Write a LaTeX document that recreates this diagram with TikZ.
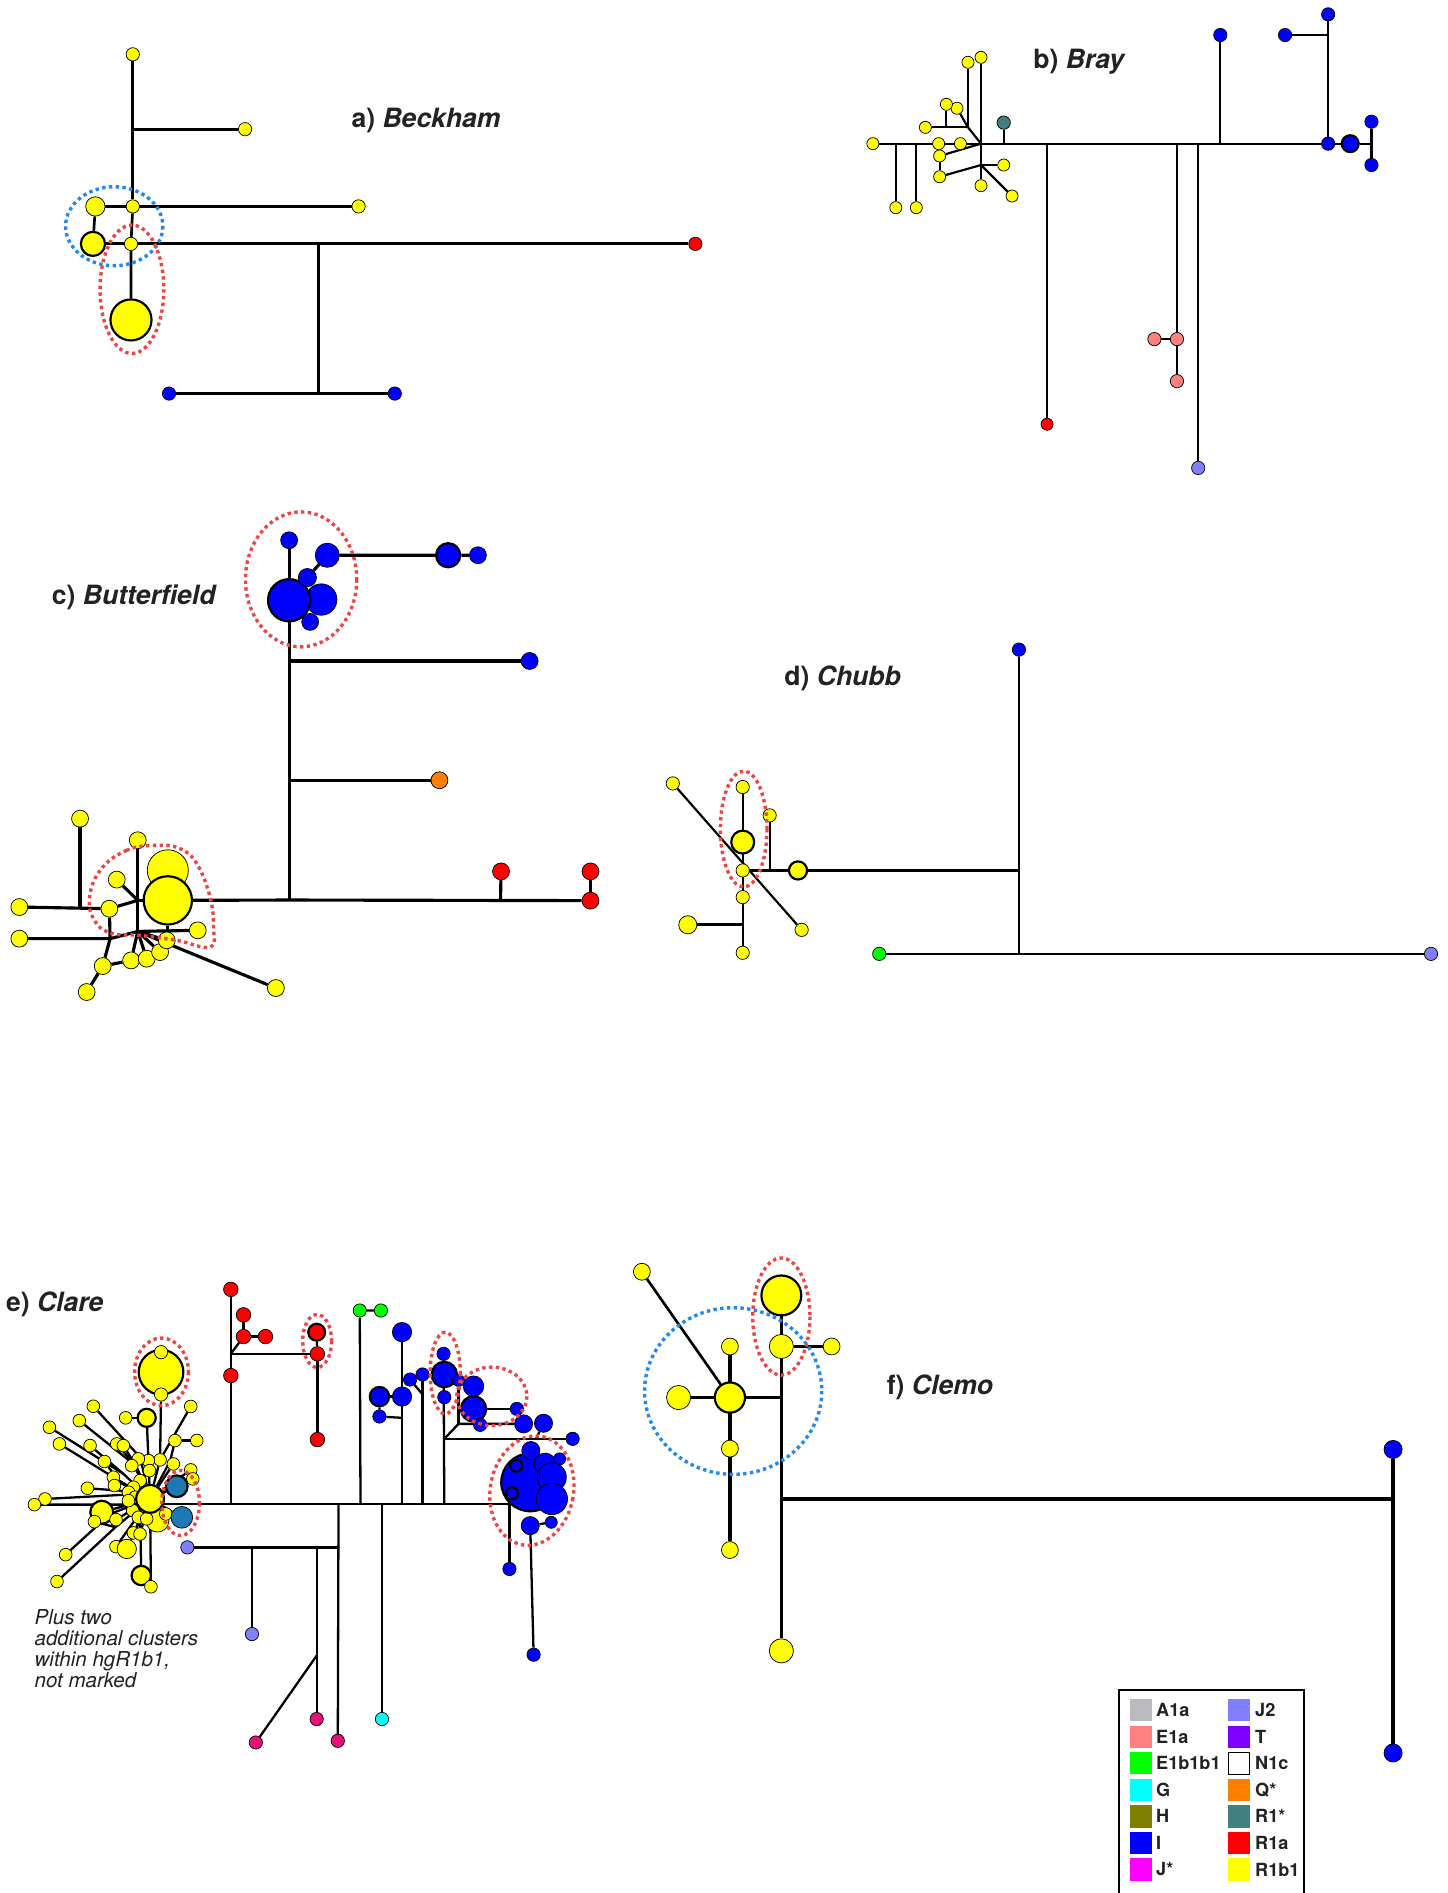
\documentclass[tikz,border=0pt]{standalone}
\usepackage{fontspec}
\setmainfont{TeX Gyre Heros}
\pgfdeclarelayer{bg}
\pgfsetlayers{bg,main}
\definecolor{yel}{HTML}{FFFF00}
\definecolor{blu}{HTML}{0000FF}
\definecolor{rd}{HTML}{FF0000}
\definecolor{sal}{HTML}{FF8080}
\definecolor{grn}{HTML}{00FF00}
\definecolor{cyn}{HTML}{00FFFF}
\definecolor{olv}{HTML}{808000}
\definecolor{mag}{HTML}{FF00FF}
\definecolor{lav}{HTML}{8080FF}
\definecolor{vio}{HTML}{8000FF}
\definecolor{org}{HTML}{FF8000}
\definecolor{tea}{HTML}{408080}
\definecolor{gry}{HTML}{BBBBBF}
\definecolor{pnk}{HTML}{E8107A}
\definecolor{stb}{HTML}{1E78B4}
\definecolor{dotred}{HTML}{EE4444}
\definecolor{dotblue}{HTML}{2288EE}
\definecolor{txt}{HTML}{222222}
\begin{document}
\begin{tikzpicture}[x=1pt,y=-1pt,
  nd/.style={circle,draw=black,line width=0.6pt,inner sep=0pt,minimum size=11},
  sz/.style={minimum size=#1},
  tk/.style={line width=1.8pt},
  yn/.style={nd,fill=yel}, bn/.style={nd,fill=blu}, rn/.style={nd,fill=rd},
  sn/.style={nd,fill=sal}, gn/.style={nd,fill=grn}, cn/.style={nd,fill=cyn},
  ln/.style={nd,fill=lav}, orn/.style={nd,fill=org}, tn/.style={nd,fill=tea},
  pn/.style={nd,fill=pnk}, sbn/.style={nd,fill=stb},
  ttl/.style={anchor=west,inner sep=0pt,text=txt,font=\fontsize{22}{26}\selectfont\bfseries},
  ovr/.style={draw=dotred,line width=2.8pt,dash pattern=on 2.8pt off 2.8pt},
  ovb/.style={draw=dotblue,line width=2.8pt,dash pattern=on 2.8pt off 2.8pt},
  sw/.style={inner sep=0pt,minimum width=18,minimum height=18.5},
  lgt/.style={anchor=west,inner sep=0pt,text=txt,font=\fontsize{15}{18}\selectfont\bfseries}
]
\useasboundingbox (0,0) rectangle (1199,1568);
\begin{pgfonlayer}{bg}
\fill[white] (0,0) rectangle (1199,1568);
\end{pgfonlayer}

% ================= a) Beckham
\node[yn] (a1) at (110,45) {};
\node[yn] (a2) at (203,107) {};
\coordinate (a2j) at (110,107);
\node[yn,sz=16] (a3) at (79,171) {};
\node[yn] (a4) at (110,171) {};
\node[yn] (a5) at (297,171) {};
\node[yn,tk,sz=20] (a6) at (77,202) {};
\node[yn] (a7) at (108.5,202) {};
\node[rn] (a8) at (576,202) {};
\coordinate (a9) at (264,202);
\coordinate (a10) at (264,326);
\node[bn] (a11) at (140,326) {};
\node[bn] (a12) at (327,326) {};
\node[yn,tk,sz=34] (a13) at (108.5,265) {};
\begin{pgfonlayer}{bg}
\begin{scope}[line width=2.2pt]
\draw (a1) -- (a4);
\draw (a2j) -- (a2);
\draw (a3) -- (a5);
\draw (a3) -- (a6);
\draw (a4) -- (a7) -- (a13);
\draw[line width=2.7pt] (a6) -- (a8);
\draw (a9) -- (a10);
\draw[line width=2.5pt] (a11) -- (a12);
\end{scope}
\end{pgfonlayer}
\draw[ovb] (94.6,187.4) ellipse [x radius=40.3, y radius=32.7];
\draw[ovr] (109.3,239.6) ellipse [x radius=26.4, y radius=53.2];
\node[ttl] (la) at (291,100) {a) \textit{Beckham}};

% ================= b) Bray
\node[yn,sz=10] (b1) at (723,119) {};
\coordinate (b2j) at (742,119);
\coordinate (b3j) at (759,119);
\node[yn,sz=10] (b2) at (742,172) {};
\node[yn,sz=10] (b3) at (759,172) {};
\node[yn,sz=10] (b4) at (777.5,119) {};
\node[yn,sz=10] (b5) at (795.5,119) {};
\coordinate (bh) at (812.6,119);
\node[yn,sz=10] (b6) at (778.3,129.2) {};
\node[yn,sz=10] (b7) at (778.3,146.4) {};
\coordinate (b7j) at (812.6,136.7);
\node[yn,sz=10] (b8) at (812.6,47.5) {};
\node[yn,sz=10] (b9) at (812.6,153.8) {};
\node[yn,sz=10] (b10) at (801.8,51.6) {};
\coordinate (b10j) at (801.8,105.5);
\node[yn,sz=10] (b11) at (792.7,89.7) {};
\node[yn,sz=10] (b12) at (783.9,86.4) {};
\coordinate (b12j) at (783.9,105.5);
\node[yn,sz=10] (b13) at (766.5,105.5) {};
\node[yn,sz=10] (b14) at (831.4,136.7) {};
\node[yn,sz=10] (b15) at (838.3,162.4) {};
\node[tn,sz=11] (b16) at (831.4,101.6) {};
\coordinate (b16j) at (831.4,119);
\coordinate (b17j) at (867.3,119);
\node[rn,sz=10] (b17) at (867.3,351.4) {};
\coordinate (b18j) at (974.9,119);
\node[sn,sz=11] (b18) at (974.9,315.7) {};
\node[sn,sz=11] (b19) at (974.9,280.9) {};
\node[sn,sz=11] (b20) at (956.2,280.9) {};
\coordinate (b21j) at (992.5,119);
\node[ln,sz=11] (b21) at (992.5,387.6) {};
\coordinate (b22j) at (1010.8,119);
\node[bn,sz=11] (b22) at (1010.8,29) {};
\node[bn,sz=11] (b23) at (1100.1,119) {};
\node[bn,sz=11] (b24) at (1100.1,11.9) {};
\coordinate (b24j) at (1100.1,29);
\node[bn,sz=11] (b25) at (1064.4,29) {};
\node[bn,tk,sz=14] (b26) at (1118.4,119) {};
\coordinate (b27j) at (1136,119);
\node[bn,sz=11] (b28) at (1136,100.8) {};
\node[bn,sz=11] (b29) at (1136,136.7) {};
\begin{pgfonlayer}{bg}
\begin{scope}[line width=1.8pt]
\draw (b1) -- (b23) -- (b26) -- (b27j);
\draw (b28) -- (b29);
\draw (b2j) -- (b2);
\draw (b3j) -- (b3);
\draw (b6) -- (bh);
\draw (b6) -- (b7);
\draw (b7) -- (b7j);
\draw (b8) -- (b9);
\draw (b10) -- (b10j);
\draw (bh) -- (b10j) -- (b11);
\draw (b13) -- (b10j);
\draw (b12) -- (b12j);
\draw (b7j) -- (b14);
\draw (b7j) -- (b15);
\draw (b16) -- (b16j);
\draw (b17j) -- (b17);
\draw (b18j) -- (b18);
\draw (b19) -- (b20);
\draw (b21j) -- (b21);
\draw (b22j) -- (b22);
\draw (b23) -- (b24);
\draw (b25) -- (b24j);
\end{scope}
\end{pgfonlayer}
\node[ttl] (lb) at (855.7,51) {b) \textit{Bray}};

% ================= c) Butterfield
\node[bn,sz=14] (c1) at (239.5,447.5) {};
\node[bn,sz=26] (c2) at (266.1,496.6) {};
\node[bn,tk,sz=35] (c3) at (239.5,497.2) {};
\node[bn,sz=15] (c4) at (254.6,478.4) {};
\node[bn,sz=14] (c5) at (256.9,515.1) {};
\node[bn,sz=20] (c6) at (271.1,459.9) {};
\node[bn,tk,sz=20] (c7) at (371.2,459.9) {};
\node[bn,sz=14] (c8) at (395.9,459.9) {};
\node[bn,sz=14] (c9) at (438.7,547.5) {};
\coordinate (c9j) at (239.5,547.5);
\node[orn,sz=14] (c10) at (364,646.3) {};
\coordinate (c10j) at (239.5,646.3);
\coordinate (cm) at (239.5,745.5);
\coordinate (c11j) at (414.6,745.5);
\node[rn,sz=14] (c11) at (415,721.8) {};
\node[rn,sz=14] (c12) at (489.1,746) {};
\node[rn,sz=14] (c13) at (489.1,721.8) {};
\node[yn,sz=34] (c14) at (139,720.9) {};
\node[yn,tk,sz=40] (c15) at (139,745.8) {};
\coordinate (c15b) at (139,771);
\coordinate (ch) at (114.1,745.8);
\coordinate (chb) at (114.1,771.5);
\node[yn,sz=14] (c16) at (114.1,696) {};
\node[yn,sz=14] (c17) at (96.7,728.6) {};
\node[yn,sz=14] (c18) at (90.6,752.7) {};
\coordinate (c19j) at (66.3,751.3);
\node[yn,sz=14] (c19) at (66.3,678.1) {};
\node[yn,sz=14] (c20) at (16,751.3) {};
\node[yn,sz=14] (c21) at (16,777.5) {};
\coordinate (c21j) at (91.2,777.5);
\node[yn,sz=14] (c22) at (85.1,800.2) {};
\node[yn,sz=14] (c23) at (71.8,821.7) {};
\node[yn,sz=14] (c24) at (108.6,795.5) {};
\node[yn,sz=14] (c25) at (121.5,794.1) {};
\node[yn,sz=14] (c26) at (132.6,788.6) {};
\node[yn,sz=14] (c27) at (138.1,778.9) {};
\node[yn,sz=14] (c28) at (163.8,770.6) {};
\node[yn,sz=14] (c29) at (228.5,818.4) {};
\begin{pgfonlayer}{bg}
\begin{scope}[line width=2.6pt]
\draw (c1) -- (c3) -- (cm);
\draw (c4) -- (c6) -- (c7) -- (c8);
\draw (c9j) -- (c9);
\draw (c10j) -- (c10);
\draw (c15) -- (cm) -- (c12);
\draw (c11j) -- (c11);
\draw (c12) -- (c13);
\draw (c15) -- (c15b);
\draw (c16) -- (chb);
\draw (ch) -- (c15);
\draw (c17) -- (ch);
\draw (c18) -- (ch);
\draw (c20) -- (c18);
\draw (c19) -- (c19j);
\draw (c21) -- (c21j) -- (chb);
\draw (c18) -- (c21j) -- (c22) -- (c23);
\draw (c22) -- (c24);
\draw (chb) -- (c24);
\draw (chb) -- (c25);
\draw (chb) -- (c26);
\draw (chb) -- (c27);
\draw (chb) -- (c28);
\draw (chb) -- (c29);
\end{scope}
\end{pgfonlayer}
\draw[ovr] (249.4,479.9) ellipse [x radius=46.1, y radius=55.9];
\draw[ovr] plot[smooth cycle, tension=0.7] coordinates {(129.8,700.2) (105,704.3) (82.9,720.9) (74,745.8) (80.1,765.1) (93.9,773.4) (116,774.8) (146.4,778.9) (174,784.4) (176.8,767.9) (174,743) (163,715.4) (149.2,703)};
\node[ttl] (lc) at (42.8,495) {c) \textit{Butterfield}};

% ================= d) Chubb
\node[bn] (d1) at (844,538.1) {};
\coordinate (dj1) at (844,721);
\coordinate (dj2) at (844,790.1);
\node[yn,tk,sz=15] (d2) at (661,721) {};
\node[yn] (d3) at (615.2,721) {};
\node[yn] (d4) at (615.2,651.9) {};
\node[yn] (d5) at (615.2,789.2) {};
\node[yn,tk,sz=19] (d6) at (615.2,697.5) {};
\node[yn] (d7) at (615.2,743.1) {};
\node[yn] (d8) at (637.5,675.4) {};
\coordinate (d8j) at (637.5,721);
\node[yn] (d9) at (557.3,648.9) {};
\node[yn] (d10) at (664,770.2) {};
\node[yn,sz=15] (d11) at (569.7,766) {};
\coordinate (d11j) at (615.2,766);
\node[gn] (d12) at (728.3,790.1) {};
\node[ln] (d13) at (1185.3,790.1) {};
\begin{pgfonlayer}{bg}
\begin{scope}[line width=1.8pt]
\draw (d1) -- (dj2);
\draw[line width=2.2pt] (d3) -- (d2) -- (dj1);
\draw (d4) -- (d5);
\draw (d8) -- (d8j);
\draw (d9) -- (d10);
\draw[line width=2.2pt] (d11) -- (d11j);
\draw[line width=2.2pt] (d12) -- (d13);
\end{scope}
\end{pgfonlayer}
\draw[ovr] (616,686.7) ellipse [x radius=19.3, y radius=48];
\node[ttl] (ld) at (649.5,562) {d) \textit{Chubb}};

% ================= e) Clare
\coordinate (er0) at (191.2,1245.5);
\node[rn,sz=12] (er1) at (191.2,1068) {};
\node[rn,sz=12] (er2) at (191.2,1139.4) {};
\coordinate (erj) at (191.2,1121.4);
\node[rn,sz=12] (er3) at (201.7,1107.1) {};
\node[rn,sz=12] (er4) at (201.7,1089.1) {};
\node[rn,sz=12] (er5) at (219.9,1107.1) {};
\node[rn,sz=12] (er6) at (262.9,1121.4) {};
\node[rn,tk,sz=14] (er7) at (262.3,1103.5) {};
\node[rn,sz=12] (er8) at (262.9,1192.4) {};
\coordinate (eg0) at (298.6,1245.5);
\node[gn] (eg1) at (298,1085.5) {};
\node[gn] (eg2) at (315.5,1085.5) {};
\coordinate (eb0) at (333,1245.5);
\node[bn,sz=16] (eb1) at (333,1103.4) {};
\node[bn,sz=16] (eb2) at (333,1156.8) {};
\node[bn,tk,sz=16] (eb3) at (314.3,1156.8) {};
\node[bn] (eb4) at (314.3,1173.3) {};
\coordinate (eb4j) at (333,1174.4);
\coordinate (ec0) at (350,1245.5);
\node[bn] (ec1) at (350,1138.5) {};
\node[bn] (ec2) at (339.7,1142.7) {};
\coordinate (ec2j) at (350,1155);
\coordinate (ed0) at (368,1245.5);
\node[bn] (ed1) at (368,1157.3) {};
\node[bn,tk,sz=21] (ed2) at (368,1138.5) {};
\node[bn] (ed3) at (367.4,1121.4) {};
\node[bn,sz=10] (ed4) at (379.8,1143.5) {};
\coordinate (edj1) at (368,1191.8);
\coordinate (edj2) at (379.8,1179.4);
\node[bn,sz=17] (ee1) at (392.2,1148.2) {};
\node[bn,tk,sz=21] (ee2) at (392.2,1167) {};
\node[bn] (ee3) at (428.1,1167) {};
\node[bn] (ee4) at (397.7,1180.2) {};
\node[bn,sz=15] (ee6) at (433.7,1179.4) {};
\node[bn,sz=15] (ee7) at (450.2,1178.9) {};
\coordinate (ee7j) at (444,1191.8);
\node[bn] (ee8) at (474.3,1191.8) {};
\node[bn,tk,sz=48] (ef0) at (439.2,1227.8) {};
\node[bn,sz=18] (ef2) at (451.6,1212.6) {};
\node[bn,sz=10] (ef3) at (463.5,1208.4) {};
\node[bn,sz=24] (ef4) at (457.1,1223.6) {};
\node[bn,sz=26] (ef5) at (457.1,1241.6) {};
\node[bn,sz=15] (ef1) at (439.7,1201.5) {};
\node[bn,tk,sz=10] (ef6) at (427.6,1214) {};
\node[bn,tk,sz=10] (ef7) at (424,1236.9) {};
\node[bn,sz=15] (ef8) at (439.2,1263.7) {};
\node[bn,sz=10] (ef9) at (456.6,1260.9) {};
\node[bn] (ef10) at (442,1370.6) {};
\coordinate (em1) at (422,1245.5);
\node[bn] (ef11) at (422,1299.6) {};
\coordinate (el0) at (280.4,1245.5);
\coordinate (el1) at (280.4,1281.7);
\node[ln] (el2) at (155.2,1281.7) {};
\coordinate (el3) at (208.7,1281.7);
\node[ln] (el4) at (208.7,1353.5) {};
\coordinate (el5) at (262.3,1281.7);
\node[pn] (el6) at (262.3,1423.9) {};
\coordinate (el7) at (262.3,1371.4);
\node[pn] (el8) at (211.9,1443.3) {};
\node[pn] (el9) at (279.8,1441.9) {};
\coordinate (el10) at (316.4,1245.5);
\node[cn] (el11) at (316.4,1423.9) {};
\node[yn,tk,sz=37] (ey1) at (133.4,1136.6) {};
\node[yn] (ey2) at (133.4,1120) {};
\node[yn] (ey3) at (133.4,1155.1) {};
\node[yn,tk,sz=15] (ey4) at (121.5,1174.4) {};
\node[yn,sz=10.5] (ey5) at (104.1,1174.4) {};
\node[yn,sz=10.5] (ey6) at (77.3,1164.8) {};
\node[yn,sz=10.5] (ey7) at (65.7,1176.7) {};
\node[yn,sz=10.5] (ey8) at (40.9,1182.2) {};
\node[yn,sz=10.5] (ey9) at (49.2,1196) {};
\node[yn,sz=10.5] (ey10) at (74.6,1197.4) {};
\node[yn,sz=10.5] (ey11) at (86.5,1210.6) {};
\node[yn,sz=10.5] (ey12) at (96.7,1196) {};
\node[yn,sz=10.5] (ey13) at (102.2,1197.4) {};
\node[yn,sz=10.5] (ey14) at (158,1165) {};
\node[yn,sz=10.5] (ey15) at (145,1193.2) {};
\node[yn,sz=10.5] (ey16) at (163,1193.2) {};
\node[yn,sz=10.5] (ey17) at (143.6,1212.6) {};
\node[yn,sz=10.5] (ey18) at (72.4,1232.7) {};
\node[yn,sz=10.5] (ey19) at (37.3,1241.6) {};
\node[yn,sz=10.5] (ey20) at (132.6,1209.2) {};
\node[yn,sz=10.5] (ey21) at (28.5,1246.3) {};
\node[yn,tk,sz=19] (ey22) at (84.3,1252.6) {};
\node[yn,sz=10.5] (ey23) at (78.2,1260.4) {};
\node[yn,sz=10.5] (ey24) at (96.1,1258.7) {};
\node[yn,sz=10.5] (ey25) at (54.4,1287.7) {};
\node[yn,sz=10.5] (ey26) at (47.2,1310) {};
\node[yn,sz=10.5] (ey27) at (96.1,1281.1) {};
\node[yn,sz=16] (ey28) at (105,1283) {};
\node[yn,sz=10.5] (ey29) at (110.5,1269.7) {};
\node[yn,sz=10.5] (ey30) at (116,1270.6) {};
\node[yn,sz=19] (ey31) at (130.4,1259.5) {};
\node[yn,sz=10.5] (ey32) at (137.3,1254) {};
\node[yn,sz=10.5] (ey33) at (158,1217.5) {};
\node[yn,sz=10.5] (ey34) at (159.7,1225) {};
\node[yn,tk,sz=16] (ey35) at (117,1305) {};
\node[yn,sz=10.5] (ey36) at (125,1314.3) {};
\node[yn,sz=10.5] (ey37) at (122.9,1209.8) {};
\node[yn,sz=10.5] (ey38) at (114.6,1208.4) {};
\node[yn,sz=10.5] (ey39) at (109.1,1214) {};
\node[yn,sz=10.5] (ey40) at (123.8,1218.1) {};
\node[yn,sz=10.5] (ey41) at (116,1226.4) {};
\node[yn,sz=10.5] (ey42) at (110.5,1231.9) {};
\node[yn,sz=10.5] (ey43) at (106.4,1236) {};
\node[yn,sz=10.5] (ey44) at (93.9,1223.6) {};
\node[yn,sz=10.5] (ey45) at (94.8,1230.5) {};
\node[yn,sz=10.5] (ey46) at (109.9,1251.2) {};
\node[yn,sz=10.5] (ey47) at (114.6,1256.8) {};
\node[yn,sz=10.5] (ey48) at (121.5,1258.1) {};
\node[yn,sz=10.5] (ey49) at (111.9,1240.2) {};
\node[yn,sz=10.5] (ey50) at (106.4,1243) {};
\node[sbn,tk,sz=18] (et1) at (146.4,1231.1) {};
\node[sbn,sz=18] (et2) at (150.6,1256.8) {};
\node[yn,tk,sz=23] (ey0) at (124.3,1241.5) {};
\coordinate (eM0) at (130,1245.5);
\coordinate (eyA) at (116,1207);
\coordinate (eyB) at (110.5,1212.6);
\coordinate (eyC) at (102.2,1220.8);
\coordinate (eyD) at (94,1223.6);
\coordinate (eyE) at (99.4,1228);
\coordinate (eyF) at (113.3,1215.3);
\coordinate (eyG) at (99.4,1234.7);
\coordinate (eyH) at (105,1238);
\coordinate (eyI) at (91.2,1254);
\coordinate (eyJ) at (95.6,1265);
\coordinate (eyK) at (141,1210);
\coordinate (eyL) at (116,1250);
\coordinate (eyM) at (110,1246.3);
\begin{pgfonlayer}{bg}
\begin{scope}[line width=1.9pt]
\draw (eM0) -- (em1);
\draw (er0) -- (er2) -- (erj) -- (er1);
\draw (erj) -- (er3);
\draw (er3) -- (er4);
\draw (er3) -- (er5);
\draw (erj) -- (er6);
\draw (er6) -- (er7);
\draw (er6) -- (er8);
\draw (eg0) -- (eg1) -- (eg2);
\draw (eb0) -- (eb1);
\draw (eb2) -- (eb3);
\draw (eb3) -- (eb4) -- (eb4j);
\draw (ec0) -- (ec1);
\draw (ec2) -- (ec2j);
\draw (ed0) -- (ed3);
\draw (ed4) -- (edj2);
\draw (edj1) -- (edj2) -- (ee6);
\draw (edj1) -- (ee8);
\draw (ee2) -- (ee3);
\draw (ee7j) -- (ee7);
\draw (ef8) -- (ef9);
\draw (ef8) -- (ef10);
\draw (em1) -- (ef11);
\draw (el0) -- (el9);
\draw (el2) -- (el1);
\draw (el3) -- (el4);
\draw (el5) -- (el6);
\draw (el7) -- (el8);
\draw (el10) -- (el11);
\draw (ey3) -- (ey20) -- (ey0);
\draw (ey4) -- (ey0);
\draw (ey5) -- (ey4);
\draw (ey6) -- (eyA);
\draw (ey7) -- (eyB);
\draw (ey8) -- (eyC);
\draw (ey9) -- (eyD);
\draw (ey10) -- (eyC);
\draw (ey11) -- (eyE);
\draw (ey12) -- (eyF);
\draw (ey13) -- (eyF);
\draw (ey14) -- (ey20);
\draw (ey15) -- (ey16);
\draw (ey15) -- (eyK);
\draw (ey18) -- (eyG);
\draw (ey19) -- (eyH);
\draw (ey21) -- (eyM) -- (ey0);
\draw (ey25) -- (eyI);
\draw (ey26) -- (eyJ);
\draw (ey22) -- (ey0);
\draw (ey23) -- (eyJ);
\draw (ey24) -- (ey0);
\draw (ey27) -- (ey0);
\draw (ey28) -- (ey0);
\draw (ey29) -- (ey0);
\draw (ey30) -- (ey0);
\draw (ey31) -- (ey0);
\draw (ey32) -- (ey0);
\draw (ey33) -- (ey0);
\draw (ey34) -- (ey0);
\draw (ey17) -- (ey0);
\draw (eyA) -- (ey0);
\draw (eyB) -- (ey0);
\draw (eyC) -- (ey0);
\draw (eyD) -- (ey0);
\draw (eyE) -- (ey0);
\draw (eyF) -- (ey0);
\draw (eyG) -- (ey0);
\draw (eyH) -- (ey0);
\draw (eyI) -- (ey0);
\draw (eyJ) -- (ey0);
\draw (eyK) -- (ey0);
\draw (ey0) -- (ey36);
\draw (eyL) -- (ey35);
\draw (ey0) -- (et1);
\draw (ey0) -- (et2);
\end{scope}
\end{pgfonlayer}
\draw[ovr] (262.7,1110.7) ellipse [x radius=12, y radius=21.9];
\draw[ovr] (368.8,1137.3) ellipse [x radius=12.5, y radius=33.8];
\draw[ovr] (407.4,1156.6) ellipse [x radius=29, y radius=24.2];
\draw[ovr, rotate around={-10:(440.6,1234.7)}] (440.6,1234.7) ellipse [x radius=34.5, y radius=45.6];
\draw[ovr] (133.8,1136.3) ellipse [x radius=22.3, y radius=28];
\draw[ovr] (149.6,1245) ellipse [x radius=15.6, y radius=27];
\node[ttl] (le) at (4.8,1080) {e) \textit{Clare}};
\node[anchor=north west, inner sep=0pt, align=left, text=txt, font=\fontsize{17}{17.5}\selectfont\itshape] (note) at (28.5,1333) {Plus two\\additional clusters\\within hgR1b1,\\not marked};

% ================= f) Clemo
\node[yn,sz=14] (f1) at (531.7,1053.4) {};
\node[yn,tk,sz=33] (f2) at (647.2,1073) {};
\node[yn,sz=20] (f3) at (647.2,1115.3) {};
\node[yn,sz=14] (f4) at (688.8,1115.3) {};
\node[yn,tk,sz=25] (f5) at (604.6,1157.6) {};
\node[yn,sz=20] (f6) at (562.1,1157.6) {};
\coordinate (f6j) at (647.2,1157.6);
\node[yn,sz=14] (f7) at (604.6,1115.3) {};
\node[yn,sz=14] (f8) at (604.6,1199.9) {};
\node[yn,sz=14] (f9) at (604.6,1283.9) {};
\node[yn,sz=20] (f10) at (647.2,1367.4) {};
\coordinate (f11j) at (647.2,1241.5);
\coordinate (f12j) at (1153.9,1241.5);
\node[bn,sz=15] (f13) at (1153.9,1200.6) {};
\node[bn,sz=15] (f14) at (1153.9,1452) {};
\begin{pgfonlayer}{bg}
\begin{scope}[line width=2.8pt]
\draw (f2) -- (f10);
\draw (f3) -- (f4);
\draw (f6) -- (f5) -- (f6j);
\draw (f7) -- (f9);
\draw[line width=2.2pt] (f1) -- (f5);
\draw (f11j) -- (f12j);
\draw (f13) -- (f14);
\end{scope}
\end{pgfonlayer}
\draw[ovr] (647.2,1090.5) ellipse [x radius=23.7, y radius=48.5];
\draw[ovb] (607.3,1152.2) ellipse [x radius=73.4, y radius=69];
\node[ttl] (lf) at (734.4,1149) {f) \textit{Clemo}};

% ================= legend
\draw[line width=1.8pt] (927,1400) rectangle (1080,1572);
\node[sw,fill=gry] (s1) at (945,1416.5) {};
\node[sw,fill=sal] (s2) at (945,1438.5) {};
\node[sw,fill=grn] (s3) at (945,1460.5) {};
\node[sw,fill=cyn] (s4) at (945,1482.5) {};
\node[sw,fill=olv] (s5) at (945,1504.5) {};
\node[sw,fill=blu] (s6) at (945,1526.5) {};
\node[sw,fill=mag] (s7) at (945,1548.5) {};
\node[sw,fill=lav] (s8) at (1026.3,1416.5) {};
\node[sw,fill=vio] (s9) at (1026.3,1438.5) {};
\node[sw,fill=white,draw=black,line width=0.7pt] (s10) at (1026.3,1460.5) {};
\node[sw,fill=org] (s11) at (1026.3,1482.5) {};
\node[sw,fill=tea] (s12) at (1026.3,1504.5) {};
\node[sw,fill=rd] (s13) at (1026.3,1526.5) {};
\node[sw,fill=yel] (s14) at (1026.3,1548.5) {};
\node[lgt] (t1) at (957.5,1416.5) {A1a};
\node[lgt] (t2) at (957.5,1438.5) {E1a};
\node[lgt] (t3) at (957.5,1460.5) {E1b1b1};
\node[lgt] (t4) at (957.5,1482.5) {G};
\node[lgt] (t5) at (957.5,1504.5) {H};
\node[lgt] (t6) at (957.5,1526.5) {I};
\node[lgt] (t7) at (957.5,1548.5) {J*};
\node[lgt] (t8) at (1039.5,1416.5) {J2};
\node[lgt] (t9) at (1039.5,1438.5) {T};
\node[lgt] (t10) at (1039.5,1460.5) {N1c};
\node[lgt] (t11) at (1039.5,1482.5) {Q*};
\node[lgt] (t12) at (1039.5,1504.5) {R1*};
\node[lgt] (t13) at (1039.5,1526.5) {R1a};
\node[lgt] (t14) at (1039.5,1548.5) {R1b1};
\end{tikzpicture}
\end{document}
